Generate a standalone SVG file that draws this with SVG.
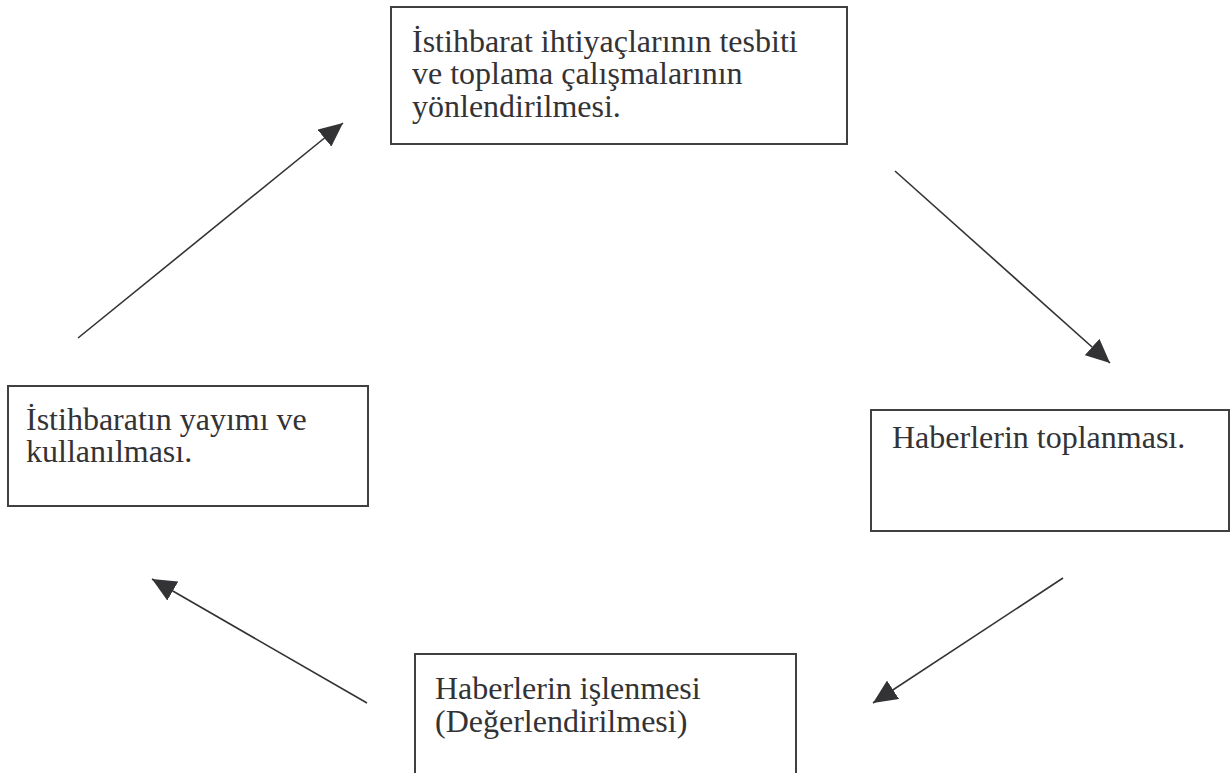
<svg xmlns="http://www.w3.org/2000/svg" width="1231" height="773" viewBox="0 0 1231 773">
<defs>
<marker id="ah" viewBox="0 0 24 22" refX="24" refY="11" markerWidth="24" markerHeight="22" markerUnits="userSpaceOnUse" orient="auto">
<path d="M0,0 L24,11 L0,22 Z" fill="#333336"/>
</marker>
<style>
.box{fill:#fff;stroke:#404040;stroke-width:2}
.t{font-family:"Liberation Serif","Times New Roman",serif;font-size:32px;fill:#333336}
.c{stroke:#333336;stroke-width:1.6;fill:none}
</style>
</defs>
<rect width="1231" height="773" fill="#fff"/>
<g id="node-top">
<rect class="box" x="391" y="7" width="456" height="137"/>
<text class="t" x="412" y="52">İstihbarat ihtiyaçlarının tesbiti</text>
<text class="t" x="412" y="84">ve toplama çalışmalarının</text>
<text class="t" x="412" y="117">yönlendirilmesi.</text>
</g>
<g id="node-right">
<rect class="box" x="871" y="410" width="358" height="121"/>
<text class="t" x="892" y="448">Haberlerin toplanması.</text>
</g>
<g id="node-bottom">
<rect class="box" x="415" y="654" width="381" height="130"/>
<text class="t" x="435" y="699">Haberlerin işlenmesi</text>
<text class="t" x="435" y="732">(Değerlendirilmesi)</text>
</g>
<g id="node-left">
<rect class="box" x="8" y="386" width="360" height="120"/>
<text class="t" x="26" y="430">İstihbaratın yayımı ve</text>
<text class="t" x="26" y="462">kullanılması.</text>
</g>
<g id="connectors">
<line class="c" x1="78" y1="338" x2="343" y2="123" marker-end="url(#ah)"/>
<line class="c" x1="895" y1="171" x2="1110" y2="363" marker-end="url(#ah)"/>
<line class="c" x1="1063" y1="578" x2="873" y2="703" marker-end="url(#ah)"/>
<line class="c" x1="367" y1="703" x2="152" y2="579" marker-end="url(#ah)"/>
</g>
</svg>
